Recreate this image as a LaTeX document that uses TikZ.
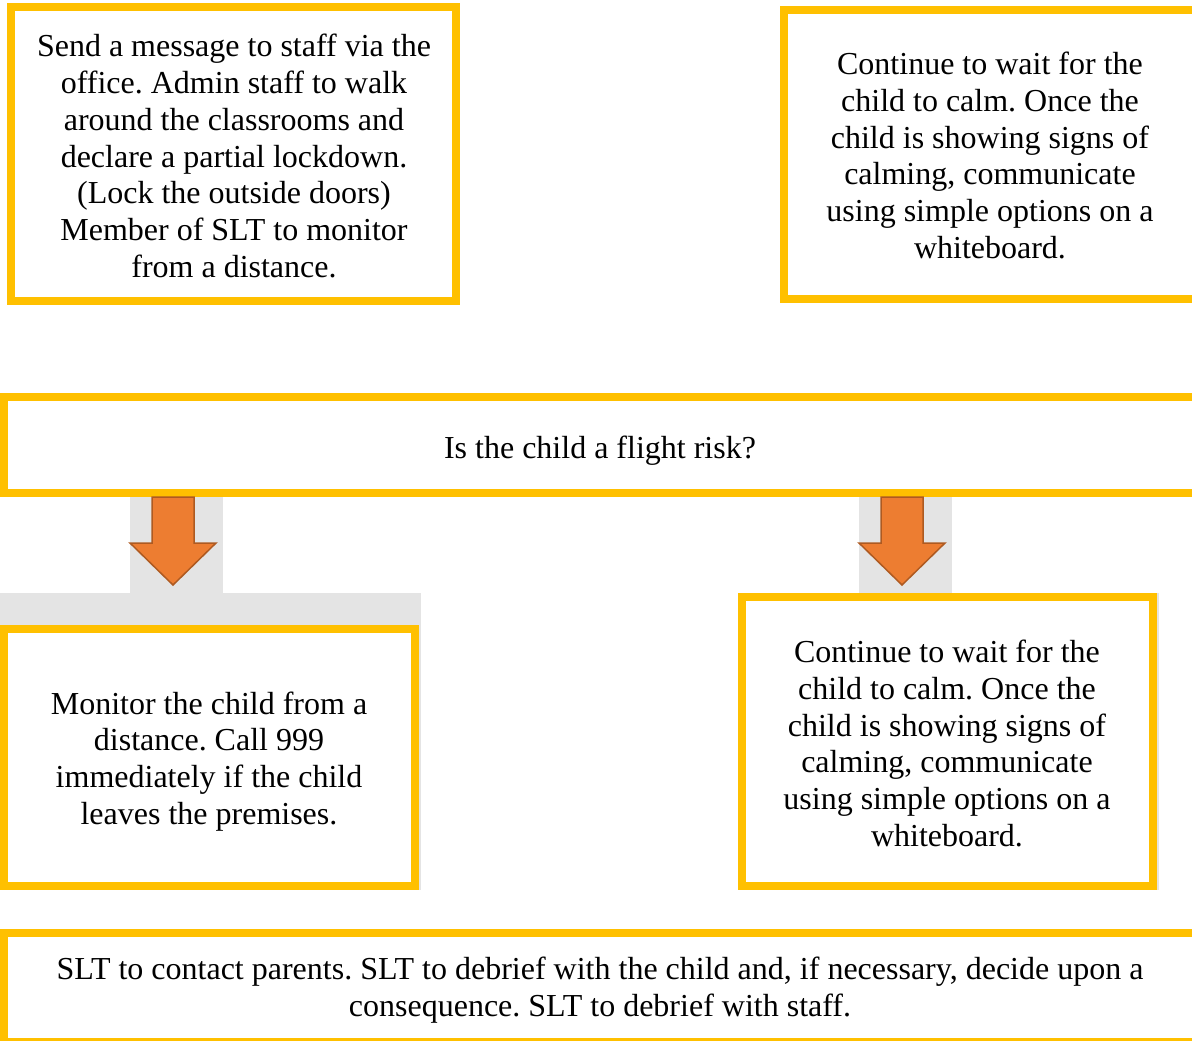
\documentclass[tikz,border=0pt]{standalone}
\usepackage{fontspec}
\setmainfont{Liberation Serif}
\frenchspacing
\definecolor{boxyellow}{HTML}{FFC000}
\definecolor{arroworange}{HTML}{ED7D31}
\definecolor{arrowedge}{HTML}{AE5A21}
\definecolor{backgrey}{HTML}{E4E4E4}
\begin{document}
\begin{tikzpicture}[x=1pt,y=-1pt,
  box/.style={draw=boxyellow, line width=8pt, fill=white, inner sep=0pt, outer sep=0pt},
  txt/.style={align=center, font=\fontsize{32}{36.8}\selectfont\frenchspacing, inner sep=0pt},
  blockarrow/.style={fill=arroworange, draw=arrowedge, line width=1.5pt, line join=miter},
  backing/.style={fill=backgrey, draw=none}]
\useasboundingbox (0,0) rectangle (1192,1041);
\clip (0,0) rectangle (1192,1041);
% grey backings
\fill[backing] (130,497) rectangle (223,593);
\fill[backing] (0,593) rectangle (421,890);
\fill[backing] (859,497) rectangle (952,593);
\fill[backing] (738,593) rectangle (1159,890);
% boxes
\node[box, minimum width=445, minimum height=293.5] (b1) at (233.5,154.25) {};
\node[box, minimum width=412, minimum height=288.5] (b2) at (990,154.75) {};
\node[box, minimum width=1192, minimum height=96] (mid) at (600,445) {};
\node[box, minimum width=410.7, minimum height=256.5] (b3) at (209.35,757.25) {};
\node[box, minimum width=411, minimum height=288.5] (b4) at (947.5,741.25) {};
\node[box, minimum width=1192, minimum height=109.5] (b5) at (600,987.25) {};
% block arrows
\draw[blockarrow] (152,497) -- (194,497) -- (194,543) -- (216,543) -- (173,585) -- (130,543) -- (152,543) -- cycle;
\draw[blockarrow] (881,497) -- (923,497) -- (923,543) -- (945,543) -- (902,585) -- (859,543) -- (881,543) -- cycle;
% texts
\node[txt] (t1) at (234,156) {Send a message to staff via the\\office. Admin staff to walk\\around the classrooms and\\declare a partial lockdown.\\(Lock the outside doors)\\Member of SLT to monitor\\from a distance.};
\node[txt] (t2) at (990,155.5) {Continue to wait for the\\child to calm. Once the\\child is showing signs of\\calming, communicate\\using simple options on a\\whiteboard.};
\node[txt, anchor=base] (tm) at (600,458) {Is the child a flight risk?};
\node[txt] (t3) at (209,761.5) {Monitor the child from a\\distance. Call 999\\immediately if the child\\leaves the premises.};
\node[txt] (t4) at (947,743.5) {Continue to wait for the\\child to calm. Once the\\child is showing signs of\\calming, communicate\\using simple options on a\\whiteboard.};
\node[txt] (t5) at (600,990) {SLT to contact parents. SLT to debrief with the child and, if necessary, decide upon a\\consequence. SLT to debrief with staff.};
\end{tikzpicture}
\end{document}
